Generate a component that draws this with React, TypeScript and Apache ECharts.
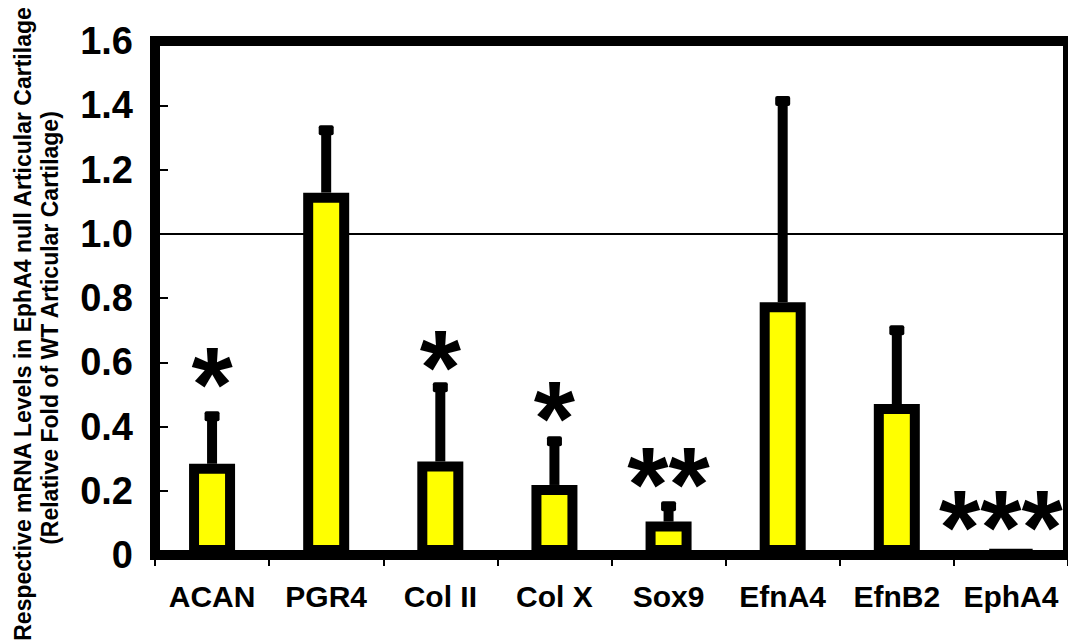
import React, { useEffect, useRef } from "react";
import * as echarts from "echarts";

const categories = ["ACAN", "PGR4", "Col II", "Col X", "Sox9", "EfnA4", "EfnB2", "EphA4"];
const means = [0.284, 1.128, 0.291, 0.218, 0.104, 0.787, 0.47, 0.008];
const errorTops = [0.432, 1.322, 0.522, 0.354, 0.152, 1.413, 0.7, null];
const starTexts = ["*", "", "*", "*", "**", "", "", "***"];
const starLevels = [0.57, null, 0.622, 0.464, 0.259, null, null, 0.124];
const yMin = 0;
const yMax = 1.6;
const yStep = 0.2;
const refLine = 1.0;
const titleLine1 = "Respective mRNA Levels in EphA4 null Articular Cartilage";
const titleLine2 = "(Relative Fold of WT Articular Cartilage)";

const FONT = '"Liberation Sans", Arial, sans-serif';

export default function App() {
  const ref = useRef<HTMLDivElement>(null);
  useEffect(() => {
    document.body.style.margin = "0";
    document.body.style.overflow = "hidden";
    const chart = echarts.init(ref.current!, undefined, { renderer: "svg" });
    const errData = categories
      .map((c, i) => (errorTops[i] == null ? null : [i, means[i], errorTops[i]]))
      .filter((d) => d != null);
    const lastIdx = categories.length - 1;
    const starData = categories
      .map((c, i) =>
        starLevels[i] == null
          ? null
          : {
              value: [i, starLevels[i], starTexts[i]],
              label: { offset: [i === lastIdx ? -10 : 0, 12] },
            }
      )
      .filter((d) => d != null);
    chart.setOption({
      animation: false,
      backgroundColor: "#ffffff",
      grid: {
        left: 155,
        right: -3.5,
        top: 41,
        bottom: 89,
        show: true,
        borderColor: "#000",
        borderWidth: 10,
        backgroundColor: "transparent",
      },
      xAxis: {
        type: "category",
        data: categories,
        boundaryGap: true,
        axisLine: { show: false },
        axisTick: { show: true, alignWithLabel: false, inside: false, length: 11, lineStyle: { color: "#000", width: 2 } },
        axisLabel: { color: "#000", fontFamily: FONT, fontWeight: "bold", fontSize: 30, margin: 26, interval: 0 },
        splitLine: { show: false },
      },
      yAxis: [
        {
          type: "value",
          min: yMin,
          max: yMax,
          interval: yStep,
          axisLine: { show: false },
          axisTick: { show: true, inside: true, length: 13, lineStyle: { color: "#000", width: 2 } },
          axisLabel: {
            color: "#000",
            fontFamily: FONT,
            fontWeight: "bold",
            fontSize: 38,
            margin: 22,
            formatter: (v: number) => (v === 0 ? "0" : v.toFixed(1)),
          },
          splitLine: { show: false },
        },
        {
          type: "value",
          min: yMin,
          max: yMax,
          interval: refLine,
          position: "left",
          axisLine: { show: false },
          axisTick: { show: false },
          axisLabel: { show: false },
          splitLine: { show: true, lineStyle: { color: "#000", width: 2 } },
        },
      ],
      series: [
        {
          type: "bar",
          data: means,
          barWidth: 46,
          itemStyle: { color: "#ffff00", borderColor: "#000", borderWidth: 10 },
          z: 2,
        },
        {
          type: "custom",
          data: errData,
          z: 3,
          renderItem: (params: any, api: any) => {
            const base = api.coord([api.value(0), api.value(1)]);
            const top = api.coord([api.value(0), api.value(2)]);
            return {
              type: "group",
              children: [
                {
                  type: "line",
                  shape: { x1: base[0], y1: base[1], x2: top[0], y2: top[1] },
                  style: { stroke: "#000", lineWidth: 10 },
                },
                {
                  type: "rect",
                  shape: { x: top[0] - 7.5, y: top[1] - 5, width: 15, height: 10, r: 2 },
                  style: { fill: "#000" },
                },
              ],
            };
          },
        },
        {
          type: "scatter",
          data: starData,
          symbolSize: 0,
          z: 4,
          itemStyle: { opacity: 1, color: "#000" },
          label: {
            show: true,
            position: "inside",
            formatter: (p: any) => p.value[2],
            color: "#000",
            opacity: 1,
            fontFamily: FONT,
            fontWeight: "bold",
            fontSize: 106,
            lineHeight: 60,
          },
        },
      ],
      graphic: [
        {
          type: "text",
          x: 23,
          y: 324,
          rotation: Math.PI / 2,
          style: {
            text: titleLine1,
            fill: "#000",
            font: `bold 23px ${FONT}`,
            textAlign: "center",
            textVerticalAlign: "middle",
          },
        },
        {
          type: "text",
          x: 50,
          y: 328,
          rotation: Math.PI / 2,
          style: {
            text: titleLine2,
            fill: "#000",
            font: `bold 23px ${FONT}`,
            textAlign: "center",
            textVerticalAlign: "middle",
          },
        },
      ],
    });
    return () => chart.dispose();
  }, []);
  return <div ref={ref} style={{ position: "absolute", left: 0, top: 0, width: 1068, height: 644 }} />;
}
